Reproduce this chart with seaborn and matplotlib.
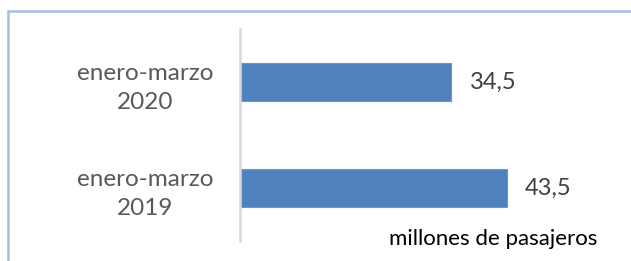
import matplotlib
matplotlib.use("Agg")
import matplotlib.pyplot as plt
import matplotlib.patches as mpatches
import seaborn as sns
import pandas as pd

periods = ["enero-marzo\n2020", "enero-marzo\n2019"]
passengers = [34.5, 43.5]
value_labels = ["34,5", "43,5"]
unit_label = "millones de pasajeros"

df = pd.DataFrame({"periodo": periods, "pasajeros": passengers})

sns.set_style("white")
plt.rcParams["font.family"] = ["Lato", "DejaVu Sans"]

fig = plt.figure(figsize=(6.31, 2.61), dpi=100)
ax = fig.add_axes([240 / 631, 1 - 241 / 261, 380 / 631, 212 / 261])

sns.barplot(data=df, x="pasajeros", y="periodo", order=periods,
            color="#4f81bd", width=0.35, saturation=1, ax=ax,
            edgecolor="#6d97cc", linewidth=0.8)

ax.set_xlim(0, 62)
ax.set_ylim(1.5, -0.5)
ax.set_xlabel("")
ax.set_ylabel("")
ax.set_xticks([])
for side in ["top", "right", "bottom"]:
    ax.spines[side].set_visible(False)
ax.spines["left"].set_color("#d9d9d9")
ax.spines["left"].set_linewidth(1.8)
ax.tick_params(axis="y", length=0, pad=68, labelsize=17.5, labelcolor="#595959")
for lbl in ax.get_yticklabels():
    lbl.set_horizontalalignment("center")
    lbl.set_linespacing(1.45)

for i, (v, t) in enumerate(zip(passengers, value_labels)):
    ax.text(v + 3, i, t, va="center", ha="left", fontsize=17, color="#404040")

fig.text(597 / 631, 1 - 239 / 261, unit_label, ha="right", va="center",
         fontsize=16, color="#000000")

frame = mpatches.Rectangle((7.5 / 631, -0.1), 1.2, 1 - 10.5 / 261 + 0.1,
                           transform=fig.transFigure, fill=False,
                           edgecolor="#a6bfe0", linewidth=1.8, clip_on=False)
fig.patches.append(frame)

fig.savefig("out.png", dpi=100)
